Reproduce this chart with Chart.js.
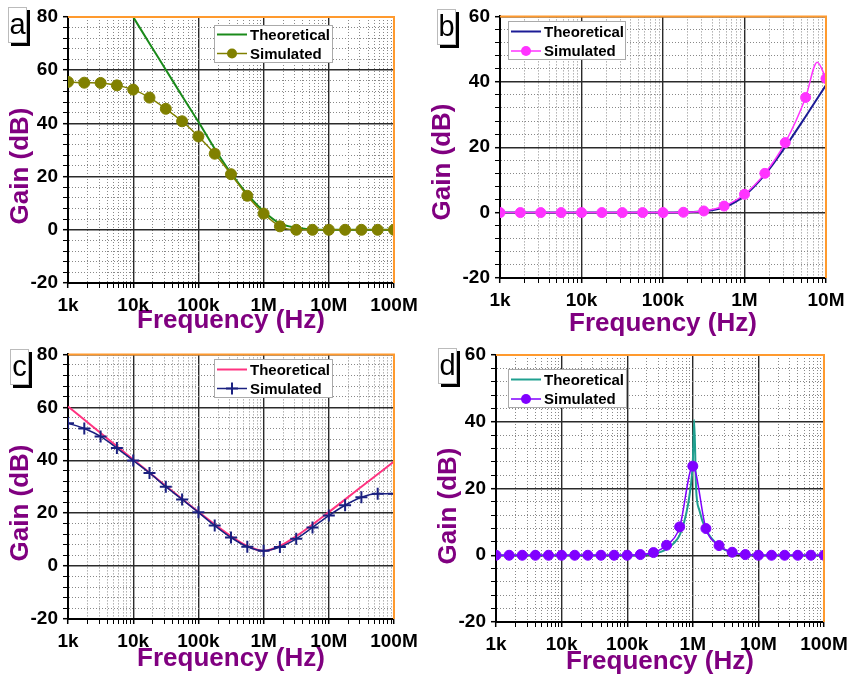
<!DOCTYPE html>
<html>
<head>
<meta charset="utf-8">
<script src="https://cdn.jsdelivr.net/npm/chart.js@4.4.0/dist/chart.umd.min.js"></script>
<style>
  body { margin: 0; background: #fff; }
  #wrap { position: relative; width: 851px; height: 676px; overflow: hidden; }
  canvas { position: absolute; }
  .tag { position: absolute; width: 17px; height: 34px; background: #fff; border: 1px solid #bbb;
         box-shadow: 3px 3px 0 #000; font: 29px "Liberation Sans", Arial, sans-serif;
         text-align: center; line-height: 32px; color: #000; }
</style>
</head>
<body>
<div id="wrap">
  <canvas id="chartA" width="425" height="338" style="left:0;top:0"></canvas>
  <canvas id="chartB" width="426" height="338" style="left:425px;top:0"></canvas>
  <canvas id="chartC" width="425" height="338" style="left:0;top:338px"></canvas>
  <canvas id="chartD" width="426" height="338" style="left:425px;top:338px"></canvas>
  <div class="tag" style="left:8px;top:7px">a</div>
  <div class="tag" style="left:437px;top:9px">b</div>
  <div class="tag" style="left:10px;top:349px">c</div>
  <div class="tag" style="left:438px;top:348px">d</div>
</div>
<script>
// frequencies (Hz)
const freqQuarter = [1000, 1778, 3162, 5623, 10000, 17783, 31623, 56234, 100000, 177828, 316228, 562341,
  1000000, 1778279, 3162278, 5623413, 10000000, 17782794, 31622777, 56234133, 100000000];
const freqFifth = [1000, 1585, 2512, 3981, 6310, 10000, 15849, 25119, 39811, 63096, 100000, 158489, 251189,
  398107, 630957, 1000000, 1584893, 2511886, 3981072, 6309573, 10000000, 15848932, 25118864, 39810717,
  63095734, 100000000];

const decadeTicks = [1e3, 1e4, 1e5, 1e6, 1e7, 1e8];
const decadeLabels = ['1k', '10k', '100k', '1M', '10M', '100M'];

// panel a
const simA = [55.6, 55.3, 55.2, 54.3, 52.7, 49.7, 45.5, 40.8, 35.1, 28.6, 20.9, 12.8, 6.1, 1.3, 0, 0, 0, 0, 0, 0, 0];
const theoryFreqA = [10000, 17783, 31623, 56234, 100000, 177828, 316228, 562341, 1000000, 1778279, 3162278, 5623413, 10000000, 100000000];
const theoryA = [80, 70, 60.2, 50.3, 40.6, 30.5, 21.3, 13.4, 7.0, 2.4, 0.8, 0.2, 0, 0];

// panel b
const simFreqB = [1000, 1778, 3162, 5623, 10000, 17783, 31623, 56234, 100000, 177828, 316228, 562341,
  1000000, 1778279, 3162278, 5623413, 7800000, 10000000];
const simB = [0, 0, 0, 0, 0, 0, 0, 0, 0, 0.1, 0.5, 2.0, 5.6, 12.0, 21.4, 35.2, 46.0, 41.0];
const simMarkB = [1, 1, 1, 1, 1, 1, 1, 1, 1, 1, 1, 1, 1, 1, 1, 1, 0, 1];
const theoryFreqB = [1000, 100000, 177828, 316228, 562341, 1000000, 1778279, 3162278, 5623413, 10000000];
const theoryB = [0, 0, 0.1, 0.4, 1.6, 5.2, 11.6, 20.1, 29.4, 39.0];

// panel c
const simC = [54.0, 52.0, 49.0, 44.6, 39.9, 35.2, 30.0, 25.2, 20.3, 15.3, 10.8, 7.3, 5.8, 7.2, 10.3, 14.6, 19.1, 23.0, 26.0, 27.3, 27.3];
const theoryFreqC = [1000, 3162, 10000, 31623, 100000, 316228, 562341, 1000000, 1778279, 3162278, 10000000, 31622777, 100000000];
const theoryC = [60.3, 50.3, 40.3, 30.3, 20.5, 11.3, 7.6, 5.8, 7.6, 11.3, 20.4, 30.0, 39.5];

// panel d
const simD = [0, 0, 0, 0, 0, 0, 0, 0, 0, 0, 0, 0.2, 0.8, 3.0, 8.5, 26.7, 8.0, 2.9, 0.9, 0.2, 0, 0, 0, 0, 0, 0];
const theoryFreqD = [1000, 100000, 158489, 251189, 398107, 501187, 630957, 794328, 891251, 1000000, 1050000,
  1122018, 1258925, 1584893, 2511886, 3981072, 6309573, 10000000, 100000000];
const theoryD = [0, 0, 0.1, 0.4, 1.8, 3.4, 6.0, 12.5, 18.0, 28.0, 40.5, 20.0, 13.5, 7.7, 2.8, 0.8, 0.2, 0, 0];

const FONT = '"Liberation Sans", Arial, sans-serif';
const PURPLE = '#800080';
const MAJOR = '#2a2a2a';
const MINOR = '#888888';

function pts(xs, ys) {
  return xs.map((x, i) => ({ x: x, y: ys[i] }));
}

function isDecade(v) {
  const l = Math.log10(v);
  return Math.abs(l - Math.round(l)) < 1e-6;
}

// frame (orange top/right), legend box and y title
const panelDecor = {
  id: 'panelDecor',
  afterDraw(chart, args, opts) {
    const ctx = chart.ctx;
    const a = chart.chartArea;
    ctx.save();
    ctx.strokeStyle = '#ff9a2e';
    ctx.lineWidth = 2;
    ctx.beginPath();
    ctx.moveTo(a.left, a.top);
    ctx.lineTo(a.right, a.top);
    ctx.lineTo(a.right, a.bottom);
    ctx.stroke();

    // legend
    const lg = opts.legend;
    ctx.fillStyle = '#fff';
    ctx.fillRect(lg.x, lg.y, lg.w, lg.h);
    ctx.strokeStyle = '#aaa';
    ctx.lineWidth = 1;
    ctx.strokeRect(lg.x + 0.5, lg.y + 0.5, lg.w, lg.h);
    ctx.font = 'bold 15px ' + FONT;
    ctx.textBaseline = 'middle';
    ctx.textAlign = 'left';
    const rows = [chart.data.datasets[1], chart.data.datasets[0]];
    rows.forEach((ds, i) => {
      const y = lg.y + lg.row0 + i * lg.rowGap;
      const x0 = lg.x + 3, x1 = lg.x + 33, xm = (x0 + x1) / 2;
      ctx.strokeStyle = ds.borderColor;
      ctx.lineWidth = ds.borderWidth;
      ctx.beginPath();
      ctx.moveTo(x0, y);
      ctx.lineTo(x1, y);
      ctx.stroke();
      if (ds.legendMarker === 'circle') {
        ctx.fillStyle = ds.borderColor;
        ctx.beginPath();
        ctx.arc(xm, y, 5, 0, Math.PI * 2);
        ctx.fill();
      } else if (ds.legendMarker === 'cross') {
        ctx.lineWidth = 2;
        ctx.beginPath();
        ctx.moveTo(xm - 6, y); ctx.lineTo(xm + 6, y);
        ctx.moveTo(xm, y - 6); ctx.lineTo(xm, y + 6);
        ctx.stroke();
      }
      ctx.fillStyle = '#000';
      ctx.fillText(ds.label, x1 + 3, y + 1);
    });

    // y axis title
    ctx.font = 'bold 26px ' + FONT;
    ctx.fillStyle = PURPLE;
    ctx.textAlign = 'center';
    ctx.translate(opts.yTitle.x, opts.yTitle.y);
    ctx.rotate(-Math.PI / 2);
    ctx.fillText('Gain (dB)', 0, 0);
    ctx.restore();
  }
};

function makePanel(id, p) {
  const logTicks = [];
  for (let d = 1e3; d < p.xMax; d *= 10) {
    for (let m = 1; m < 10; m++) logTicks.push(m * d);
  }
  logTicks.push(p.xMax);

  return new Chart(document.getElementById(id), {
    type: 'line',
    data: {
      datasets: [
        {
          label: 'Simulated',
          data: pts(p.simF, p.simG),
          borderColor: p.simColor,
          backgroundColor: p.simColor,
          borderWidth: 1.5,
          pointStyle: p.marker,
          pointRadius: p.simMark ? p.simMark.map(v => v * p.markR) : p.markR,
          pointBorderWidth: p.marker === 'cross' ? 2 : 1,
          cubicInterpolationMode: 'monotone',
          legendMarker: p.marker,
          order: 0
        },
        {
          label: 'Theoretical',
          data: pts(p.thF, p.thG),
          borderColor: p.thColor,
          borderWidth: 2,
          pointRadius: 0,
          cubicInterpolationMode: 'monotone',
          order: 1
        }
      ]
    },
    options: {
      responsive: false,
      animation: false,
      events: [],
      layout: { padding: p.pad },
      scales: {
        x: {
          type: 'logarithmic',
          min: 1e3,
          max: p.xMax,
          afterBuildTicks: s => { s.ticks = logTicks.map(v => ({ value: v })); },
          afterFit: s => { s.height = p.xH; s.paddingLeft = 0; s.paddingRight = 0; },
          ticks: {
            autoSkip: false,
            maxRotation: 0,
            padding: 6,
            color: '#000',
            font: { family: FONT, size: 19, weight: 'bold' },
            callback: v => {
              const i = decadeTicks.indexOf(v);
              return i >= 0 ? decadeLabels[i] : '';
            }
          },
          grid: {
            color: c => c.tick && isDecade(c.tick.value) ? MAJOR : MINOR,
            lineWidth: c => c.tick && isDecade(c.tick.value) ? 1.4 : 1,
            tickColor: '#000',
            tickLength: 5,
            tickWidth: c => c.tick && isDecade(c.tick.value) ? 1.5 : 1
          },
          border: {
            color: '#000',
            width: 2,
            dash: c => c.tick && !isDecade(c.tick.value) ? [1, 2] : []
          },
          title: {
            display: true,
            text: 'Frequency (Hz)',
            color: PURPLE,
            font: { family: FONT, size: 26, weight: 'bold', lineHeight: 1 },
            padding: { top: 0, bottom: p.xTitlePad }
          }
        },
        y: {
          min: -20,
          max: p.yMax,
          afterFit: s => { s.width = p.yW; },
          ticks: {
            stepSize: 4,
            autoSkip: false,
            padding: 5,
            color: '#000',
            font: { family: FONT, size: 19, weight: 'bold' },
            callback: v => (v % 20 === 0 ? v : '')
          },
          grid: {
            color: c => c.tick && c.tick.value % 20 === 0 ? MAJOR : MINOR,
            lineWidth: c => c.tick && c.tick.value % 20 === 0 ? 1.4 : 1,
            tickColor: '#000',
            tickLength: 5,
            tickWidth: c => c.tick && c.tick.value % 20 === 0 ? 1.5 : 1
          },
          border: {
            color: '#000',
            width: 2,
            dash: c => c.tick && c.tick.value % 20 !== 0 ? [1, 2] : []
          }
        }
      },
      plugins: {
        legend: { display: false },
        tooltip: { enabled: false },
        panelDecor: { legend: p.legend, yTitle: p.yTitle }
      }
    },
    plugins: [panelDecor]
  });
}

makePanel('chartA', {
  simF: freqQuarter, simG: simA, thF: theoryFreqA, thG: theoryA,
  simColor: '#808000', thColor: '#1a8a1a', marker: 'circle', markR: 5.5,
  xMax: 1e8, yMax: 80,
  pad: { top: 17, right: 31, bottom: 0, left: 0 }, yW: 68, xH: 55, xTitlePad: 4,
  legend: { x: 214, y: 25, w: 118, h: 37, row0: 9.5, rowGap: 19 },
  yTitle: { x: 21, y: 166 }
});

makePanel('chartB', {
  simF: simFreqB, simG: simB, simMark: simMarkB, thF: theoryFreqB, thG: theoryB,
  simColor: '#ff33ff', thColor: '#1c1c96', marker: 'circle', markR: 5,
  xMax: 1e7, yMax: 60,
  pad: { top: 14, right: 25, bottom: 0, left: 0 }, yW: 75, xH: 60, xTitlePad: 1,
  legend: { x: 83, y: 21, w: 117, h: 38, row0: 10.5, rowGap: 19.5 },
  yTitle: { x: 18, y: 162 }
});

makePanel('chartC', {
  simF: freqQuarter, simG: simC, thF: theoryFreqC, thG: theoryC,
  simColor: '#1a2080', thColor: '#ff3380', marker: 'cross', markR: 6,
  xMax: 1e8, yMax: 80,
  pad: { top: 16, right: 31, bottom: 0, left: 0 }, yW: 68, xH: 57, xTitlePad: 4,
  legend: { x: 214, y: 21, w: 118, h: 38, row0: 10.5, rowGap: 19 },
  yTitle: { x: 21, y: 165 }
});

makePanel('chartD', {
  simF: freqFifth, simG: simD, thF: theoryFreqD, thG: theoryD,
  simColor: '#8000ff', thColor: '#20a090', marker: 'circle', markR: 5,
  xMax: 1e8, yMax: 60,
  pad: { top: 17, right: 27, bottom: 0, left: 0 }, yW: 71, xH: 54, xTitlePad: 1,
  legend: { x: 83, y: 31, w: 118, h: 38, row0: 10.5, rowGap: 19.5 },
  yTitle: { x: 24, y: 168 }
});
</script>
</body>
</html>
